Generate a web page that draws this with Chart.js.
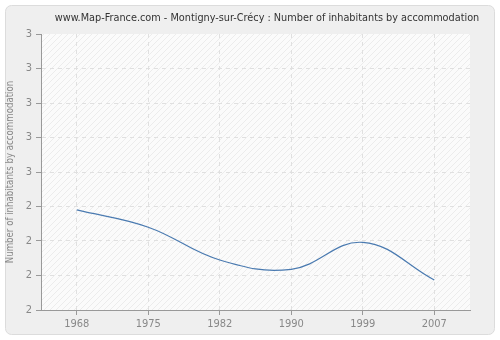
<!DOCTYPE html>
<html>
<head>
<meta charset="utf-8">
<script src="https://cdn.jsdelivr.net/npm/chart.js@4/dist/chart.umd.min.js"></script>
<style>
  html, body { margin: 0; padding: 0; background: #ffffff; }
  #wrap { width: 500px; height: 340px; }
</style>
</head>
<body>
<div id="wrap"><canvas id="grafico" width="500" height="340"></canvas></div>
<script>
// Dados do gráfico
var anos = ['1968', '1975', '1982', '1990', '1999', '2007'];
var habitantesPorAlojamento = [2.49, 2.44, 2.345, 2.318, 2.396, 2.287];
var rotulosY = ['2', '2', '2', '2', '3', '3', '3', '3', '3'];

var titulo = 'www.Map-France.com - Montigny-sur-Crécy : Number of inhabitants by accommodation';
var fonte = '"DejaVu Sans Condensed", "DejaVu Sans", sans-serif';

// Textura de listras diagonais para o fundo da área do gráfico
function criarHachura(ctx) {
    var c = document.createElement('canvas');
    c.width = 6; c.height = 6;
    var p = c.getContext('2d');
    p.fillStyle = '#fbfbfb';
    p.fillRect(0, 0, 6, 6);
    p.strokeStyle = '#ececec';
    p.lineWidth = 1;
    p.beginPath();
    p.moveTo(0, 6); p.lineTo(6, 0);
    p.moveTo(-3, 3); p.lineTo(3, -3);
    p.moveTo(3, 9); p.lineTo(9, 3);
    p.stroke();
    return ctx.createPattern(c, 'repeat');
}

// Painel arredondado de fundo, área hachurada e título
var fundoPainel = {
    id: 'fundoPainel',
    beforeDraw: function(chart) {
        var ctx = chart.ctx;
        var a = chart.chartArea;
        ctx.save();
        ctx.fillStyle = '#ffffff';
        ctx.fillRect(0, 0, chart.width, chart.height);
        ctx.beginPath();
        ctx.roundRect(5.5, 5.5, 489, 329, 6);
        ctx.fillStyle = '#efefef';
        ctx.fill();
        ctx.strokeStyle = '#dcdcdc';
        ctx.lineWidth = 1;
        ctx.stroke();
        ctx.fillStyle = criarHachura(ctx);
        ctx.fillRect(a.left, a.top, a.right - a.left, a.bottom - a.top);
        ctx.fillStyle = '#333333';
        ctx.font = '10.8px ' + fonte;
        ctx.textAlign = 'center';
        ctx.textBaseline = 'middle';
        ctx.fillText(titulo, 267, 18);
        ctx.restore();
    }
};

var ctx = document.getElementById('grafico').getContext('2d');

var grafico = new Chart(ctx, {
    type: 'line',
    data: {
        labels: anos,
        datasets: [{
            data: habitantesPorAlojamento,
            borderColor: '#4a7ab0',
            borderWidth: 1.2,
            pointRadius: 0,
            pointHoverRadius: 0,
            fill: false,
            tension: 0.4
        }]
    },
    options: {
        responsive: false,
        animation: false,
        events: [],
        layout: { padding: { left: 5, right: 30, top: 34, bottom: 0 } },
        plugins: {
            legend: { display: false },
            title: { display: false },
            tooltip: { enabled: false }
        },
        scales: {
            x: {
                type: 'category',
                offset: true,
                grid: {
                    color: '#e0e0e0',
                    tickLength: 5,
                    tickColor: '#999999',
                    tickBorderDash: []
                },
                border: { display: true, color: '#999999', width: 1, dash: [4, 4] },
                ticks: {
                    color: '#888888',
                    font: { family: fonte, size: 11 },
                    padding: 3,
                    maxRotation: 0
                },
                afterFit: function(scale) { scale.height = 30; }
            },
            y: {
                min: 2.2,
                max: 3.0,
                grid: {
                    color: function(c) {
                        return c.index === 8 ? 'rgba(0,0,0,0)' : '#e0e0e0';
                    },
                    tickLength: 5,
                    tickColor: '#999999',
                    tickBorderDash: []
                },
                border: { display: true, color: '#999999', width: 1, dash: [4, 4] },
                ticks: {
                    stepSize: 0.1,
                    color: '#888888',
                    font: { family: fonte, size: 11 },
                    padding: 4,
                    callback: function(valor, i) { return rotulosY[i]; }
                },
                title: {
                    display: true,
                    text: 'Number of inhabitants by accommodation',
                    color: '#888888',
                    font: { family: fonte, size: 9.6 },
                    padding: { top: 0, bottom: 3 }
                },
                afterFit: function(scale) { scale.width = 36; }
            }
        }
    },
    plugins: [fundoPainel]
});
</script>
</body>
</html>
